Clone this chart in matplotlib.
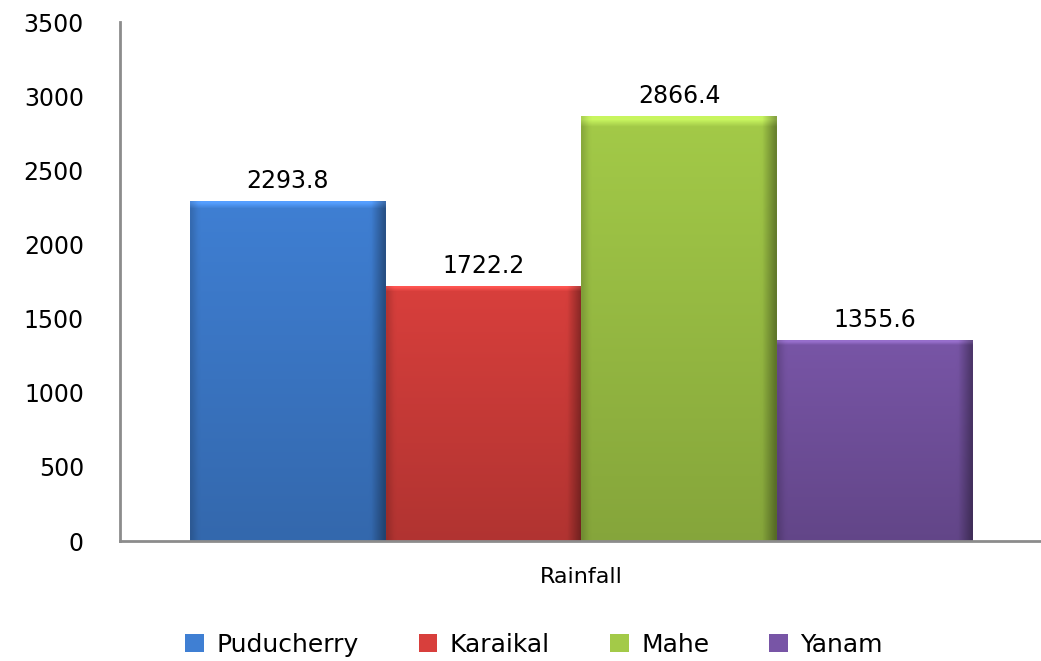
import numpy as np
import matplotlib
matplotlib.use("Agg")
import matplotlib.pyplot as plt
from matplotlib.colors import to_rgb
from matplotlib.patches import Patch

# data
regions = ["Puducherry", "Karaikal", "Mahe", "Yanam"]
rainfall = [2293.8, 1722.2, 2866.4, 1355.6]
category = "Rainfall"
colors = ["#3f7fd3", "#d83f3c", "#a3ca48", "#7855a6"]
y_ticks = [0, 500, 1000, 1500, 2000, 2500, 3000, 3500]

plt.rcParams["font.family"] = ["DejaVu Sans"]

fig = plt.figure(figsize=(10.41, 6.61), dpi=100)
ax = fig.add_axes([0.1153, 0.1815, 0.8847, 0.785])

n = len(regions)
offsets = np.arange(n) - (n - 1) / 2
bars = ax.bar(offsets, rainfall, width=1.0, color=colors, zorder=2)


def shade(rect, base):
    # simple bevel look: darker toward edges and bottom, light band on top
    r, g, b = to_rgb(base)
    h, w = 60, 60
    xs = np.linspace(0, 1, w)
    ys = np.linspace(0, 1, h)[:, None]
    side = 1 - 0.35 * np.clip((xs - 0.93) / 0.07, 0, 1) - 0.15 * np.clip((0.04 - xs) / 0.04, 0, 1)
    vert = 0.82 + 0.18 * ys
    fac = side[None, :] * vert
    img = np.zeros((h, w, 3))
    img[..., 0] = r * fac
    img[..., 1] = g * fac
    img[..., 2] = b * fac
    top = ys[:, 0] > 0.985
    img[top] = np.clip(img[top] * 1.15 + 0.05, 0, 1)
    x0, y0 = rect.get_x(), rect.get_y()
    x1, y1 = x0 + rect.get_width(), y0 + rect.get_height()
    im = ax.imshow(np.clip(img, 0, 1), extent=[x0, x1, y0, y1], origin="lower",
                   aspect="auto", zorder=2, interpolation="bilinear")
    im.set_clip_path(rect)
    rect.set_alpha(0.0)


for rect, c in zip(bars, colors):
    shade(rect, c)

for x, v in zip(offsets, rainfall):
    ax.text(x, v + 55, f"{v:.1f}", ha="center", va="bottom", fontsize=17, zorder=3)

ax.set_xlim(offsets[0] - 0.5 - 0.357, offsets[-1] + 0.5 + 0.35)
ax.set_ylim(0, 3500)
ax.set_yticks(y_ticks)
ax.set_yticklabels([str(t) for t in y_ticks], fontsize=17)
ax.tick_params(axis="y", length=0, pad=26)
ax.set_xticks([0])
ax.set_xticklabels([category], fontsize=16)
ax.tick_params(axis="x", length=0, pad=19)

for s in ["top", "right"]:
    ax.spines[s].set_visible(False)
for s in ["left", "bottom"]:
    ax.spines[s].set_color("#8c8c8c")
    ax.spines[s].set_linewidth(2)

handles = [Patch(facecolor=c, edgecolor="none") for c in colors]
fig.legend(handles, regions, loc="center", bbox_to_anchor=(534 / 1041, 1 - 645 / 661),
           ncol=n, frameon=False, fontsize=18, handlelength=0.75, handleheight=0.75,
           columnspacing=2.4, handletextpad=0.5)

fig.savefig("out.png", dpi=100)
